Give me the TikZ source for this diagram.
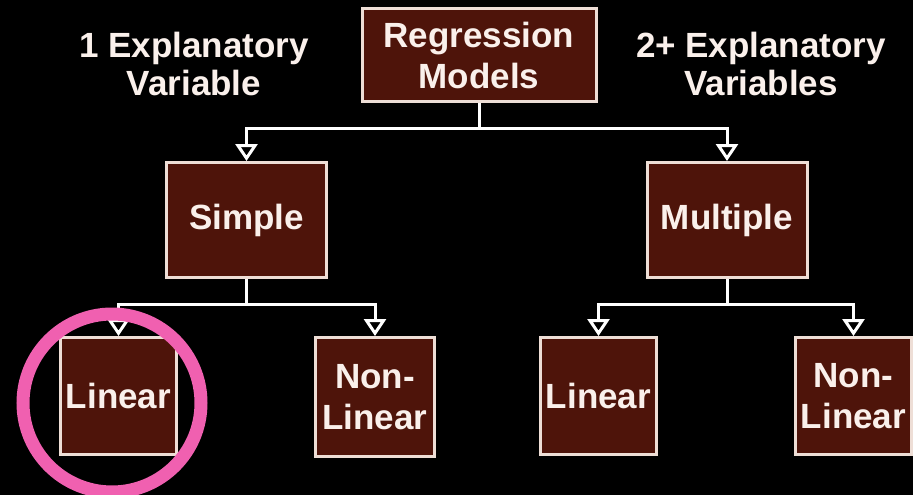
\documentclass[tikz,border=0pt]{standalone}
\usepackage{fontspec}
\setmainfont{Liberation Sans}
\usetikzlibrary{arrows.meta}
\definecolor{boxfill}{RGB}{78,20,10}
\definecolor{boxedge}{RGB}{238,222,214}
\definecolor{txt}{RGB}{250,240,235}
\definecolor{pinkring}{RGB}{240,96,176}
\begin{document}
\begin{tikzpicture}[x=1pt,y=-1pt,
  box/.style={draw=boxedge, fill=boxfill, line width=3pt, text=txt,
    font=\fontsize{35}{41}\selectfont\bfseries, align=center, inner sep=0pt},
  lbl/.style={text=txt, font=\fontsize{35}{38}\selectfont\bfseries, align=center, inner sep=0pt},
  link/.style={draw=white, line width=3pt},
  arr/.style={link, -{Triangle[length=17pt,width=22pt,fill=black]}}]
\fill[black] (0,0) rectangle (913,495);
\useasboundingbox (0,0) rectangle (913,495);

\node[box, minimum width=234, minimum height=93] (reg) at (479,55) {Regression\\Models};
\node[box, minimum width=160, minimum height=115] (simple) at (246.5,220) {Simple};
\node[box, minimum width=160, minimum height=115] (mult) at (727,220) {Multiple};
\node[box, minimum width=116, minimum height=117] (linL) at (118.5,396) {Linear};
\node[box, minimum width=119, minimum height=119] (nonL) at (375,397) {Non-\\Linear};
\node[box, minimum width=116, minimum height=117] (linR) at (598.5,396) {Linear};
\node[box, minimum width=116, minimum height=117] (nonR) at (853.5,396) {Non-\\Linear};

\node[lbl] (l1) at (194,64) {1 Explanatory\\Variable};
\node[lbl] (l2) at (761,64) {2+ Explanatory\\Variables};

\coordinate (j1) at (479,128);
\coordinate (j2) at (246.5,304);
\coordinate (j3) at (727,304);
\draw[link] (reg.south) -- (j1);
\draw[arr] (j1) -| (simple.north);
\draw[arr] (j1) -| (mult.north);
\draw[link] (simple.south) -- (j2);
\draw[arr] (j2) -| (linL.north);
\draw[arr] (j2) -| (nonL.north);
\draw[link] (mult.south) -- (j3);
\draw[arr] (j3) -| (linR.north);
\draw[arr] (j3) -| (nonR.north);

\draw[pinkring, line width=13pt] (112,403) circle (89);
\end{tikzpicture}
\end{document}
